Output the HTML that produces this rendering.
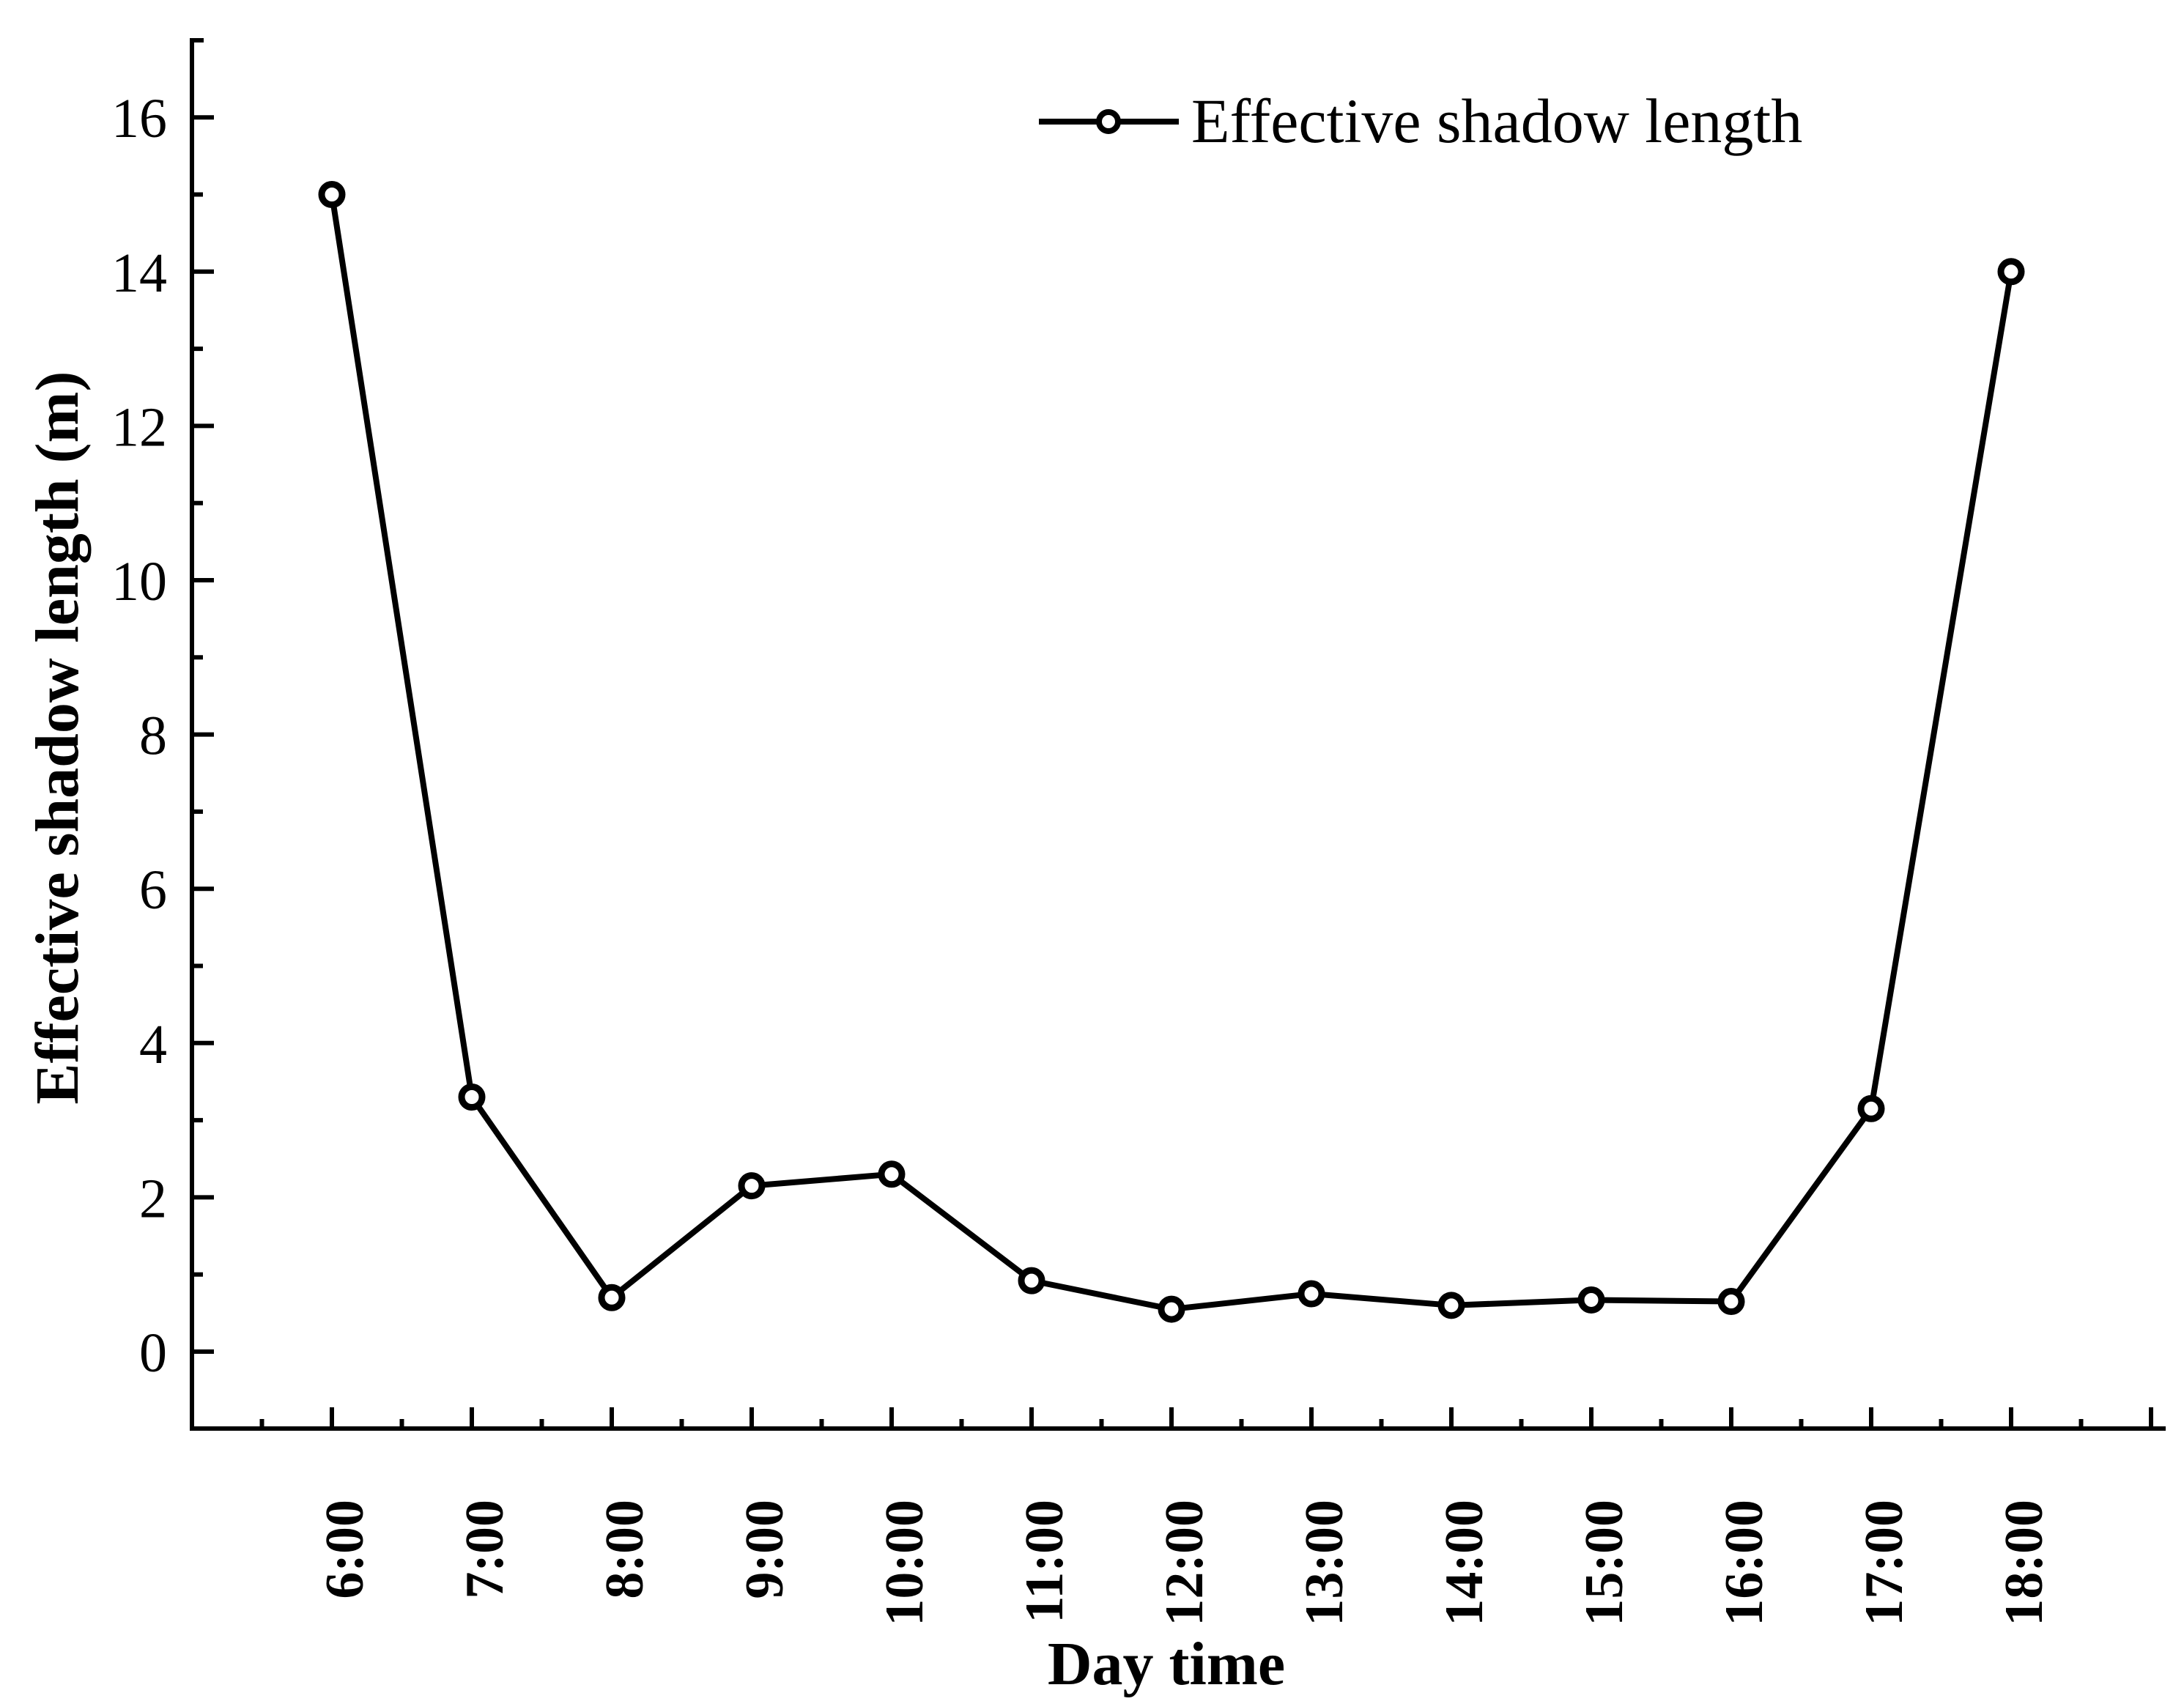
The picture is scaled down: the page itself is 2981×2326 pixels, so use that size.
<!DOCTYPE html>
<html><head><meta charset="utf-8"><style>html,body{margin:0;padding:0;background:#fff}svg{display:block}text{font-family:"Liberation Serif",serif;fill:#000}</style></head>
<body>
<svg id="chart" width="2981" height="2326" viewBox="0 0 2981 2326" xmlns="http://www.w3.org/2000/svg">
<g id="axes"></g>
<g id="series"></g>
<g>
<line x1="1418" y1="166" x2="1609" y2="166" stroke="#000" stroke-width="8"/>
<circle cx="1513" cy="166" r="13" fill="#fff" stroke="#000" stroke-width="8"/>
<text x="1626" y="194" font-size="86">Effective shadow length</text>
</g>
<text x="1592" y="2299" font-size="84" font-weight="bold" text-anchor="middle">Day time</text>
<text transform="translate(106,1007) rotate(-90)" font-size="84" font-weight="bold" text-anchor="middle">Effective shadow length (m)</text>
</svg>
<script>
const categories = ["6:00","7:00","8:00","9:00","10:00","11:00","12:00","13:00","14:00","15:00","16:00","17:00","18:00"];
const hours = [6,7,8,9,10,11,12,13,14,15,16,17,18];
const values = [15,3.3,0.7,2.15,2.3,0.92,0.55,0.75,0.6,0.67,0.65,3.15,14];
const yTicks = [0,2,4,6,8,10,12,14,16];
const yTickLabels = ["0","2","4","6","8","10","12","14","16"];

const NS = "http://www.w3.org/2000/svg";
const X0 = 262, X1 = 2956, Y0 = 1950, Y1 = 52;
const xMin = 5, pxPerHour = 191;
const yZero = 1845, pxPerUnit = 105.3;
function xs(v){ return X0 + (v - xMin) * pxPerHour; }
function ys(v){ return yZero - v * pxPerUnit; }
function mk(tag, attrs, parent){ const e = document.createElementNS(NS, tag); for (const k in attrs) e.setAttribute(k, attrs[k]); parent.appendChild(e); return e; }

const axes = document.getElementById('axes');
let el = mk('line', {x1:X0, y1:Y1, x2:X0, y2:Y0+3, stroke:'#000','stroke-width':6}, axes);


el = mk('line', {x1:X0-3, y1:Y0, x2:X1, y2:Y0, stroke:'#000','stroke-width':6}, axes);


mk('line', {x1:X0, y1:Y1+3, x2:X0+16, y2:Y1+3, stroke:'#000','stroke-width':6}, axes);

for (let v = -1; v <= 17; v++) {
  if (ys(v) > Y0 - 4 || ys(v) < Y1 + 8) continue;
  const major = v % 2 === 0 && v >= 0;
  el = mk('line', {x1:X0, y1:ys(v), x2:X0 + (major ? 30 : 15), y2:ys(v), stroke:'#000','stroke-width':6}, axes);
  
  
}
yTicks.forEach((v, i) => {
  const t = mk('text', {x:228, y:ys(v)+27, 'font-size':76, 'text-anchor':'end'}, axes);
  t.textContent = yTickLabels[i];
  
  
});
for (let h = 5.5; xs(h) < X1 - 5; h += 0.5) {
  const major = Number.isInteger(h);
  el = mk('line', {x1:xs(h), y1:Y0, x2:xs(h), y2:Y0 - (major ? 29 : 13), stroke:'#000','stroke-width':6}, axes);
  
  
}
categories.forEach((c, i) => {
  const x = xs(hours[i]) + 42;
  const t = mk('text', {transform:`translate(${x},2047) rotate(-90)`, 'font-size':74, 'font-weight':'bold', 'text-anchor':'end'}, axes);
  t.textContent = c;
  
  
});

const series = document.getElementById('series');
const pts = values.map((v, i) => xs(hours[i]) + ',' + ys(v)).join(' ');
el = mk('polyline', {points:pts, fill:'none', stroke:'#000', 'stroke-width':8, 'stroke-linejoin':'round'}, series);


values.forEach((v, i) => {
  const c = mk('circle', {cx:xs(hours[i]), cy:ys(v), r:14, fill:'#fff', stroke:'#000', 'stroke-width':9}, series);
  
  
});
</script>
</body></html>
